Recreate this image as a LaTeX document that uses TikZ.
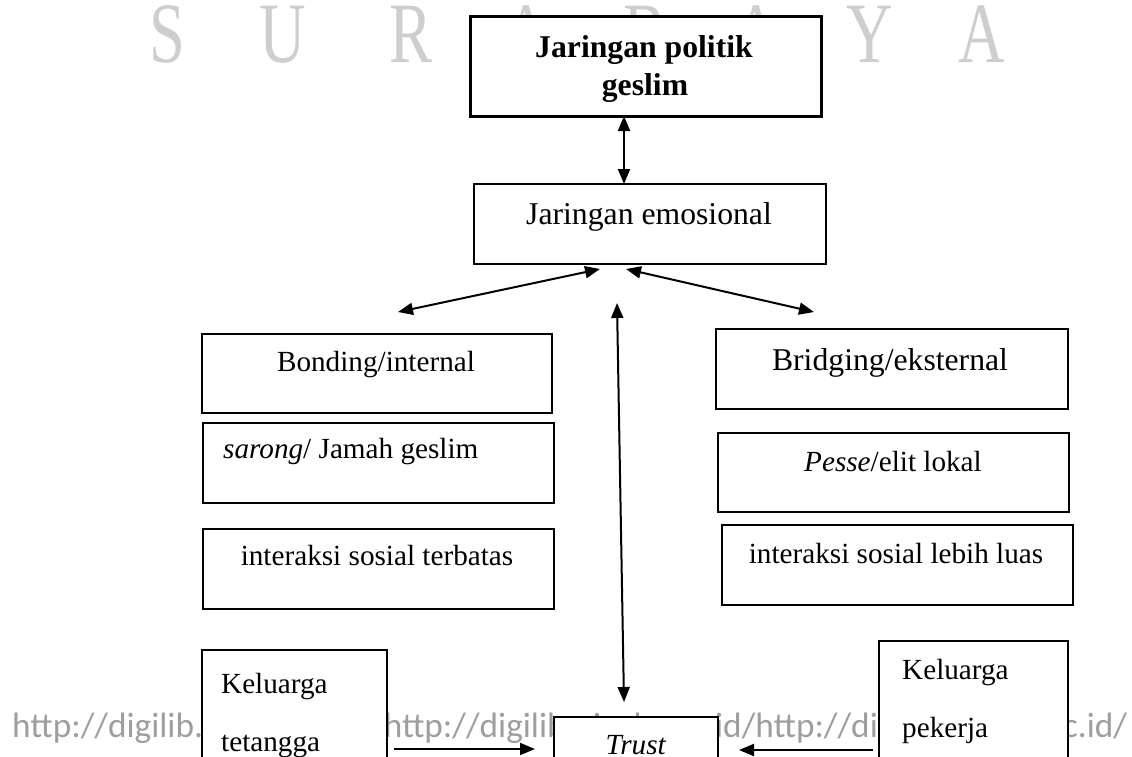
\documentclass[tikz,border=0pt]{standalone}
\usepackage{fontspec}
\setmainfont{Liberation Serif}
\newfontfamily\wmfont{Carlito}
\usetikzlibrary{arrows.meta}
\definecolor{wmgray}{RGB}{158,158,158}
\definecolor{wmlight}{RGB}{206,206,206}
\begin{document}
\begin{tikzpicture}[x=1pt,y=-1pt,
  box/.style={draw, line width=2.3pt, fill=white, inner sep=0pt, anchor=north west},
  bigtxt/.style={inner sep=0pt, font=\fontsize{31.7}{38}\selectfont},
  txt/.style={inner sep=0pt, font=\fontsize{29.2}{35}\selectfont},
  wmletter/.style={inner sep=0pt, anchor=base, text=wmlight, font=\fontsize{86}{90}\selectfont},
  link/.style={line width=2pt, {Triangle[length=15pt,width=12pt]}-{Triangle[length=15pt,width=12pt]}},
  onelink/.style={line width=2pt, -{Triangle[length=15pt,width=12pt]}}]
\useasboundingbox (0,0) rectangle (1132,756);
\clip (0,0) rectangle (1132,756);
% watermarks
\foreach \c/\x [count=\i] in {S/167,U/283,R/411,A/527,B/645,A/757,Y/870,A/982}
  \node[wmletter] (wl\i) at (\x,62) {\scalebox{0.75}[1]{\c}};
\node[anchor=base west, inner sep=0pt, text=wmgray, font=\wmfont\fontsize{35.3}{40}\selectfont] (wm) at (12,737)
  {http://digilib.uinsby.ac.id/http://digilib.uinsby.ac.id/http://digilib.uinsby.ac.id/};
% boxes
\node[box, line width=3pt, minimum width=351pt, minimum height=100pt] (top) at (469,15) {};
\node[box, minimum width=352pt, minimum height=80pt] (emo) at (473,183) {};
\node[box, minimum width=350pt, minimum height=79pt] (bond) at (201,333) {};
\node[box, minimum width=351pt, minimum height=80pt] (sarong) at (202,422) {};
\node[box, minimum width=351pt, minimum height=80pt] (terbatas) at (202,528) {};
\node[box, minimum width=352pt, minimum height=80pt] (bridg) at (715,328) {};
\node[box, minimum width=351pt, minimum height=79pt] (pesse) at (717,432) {};
\node[box, minimum width=351pt, minimum height=80pt] (luas) at (721,524) {};
\node[box, minimum width=185pt, minimum height=151pt] (tetangga) at (201,649) {};
\node[box, minimum width=164pt, minimum height=84pt] (trust) at (553,716) {};
\node[box, minimum width=189pt, minimum height=160pt] (pekerja) at (878,640) {};
% texts
\node[bigtxt, anchor=base, font=\fontsize{31.7}{38}\selectfont\bfseries] (t1) at (644,57) {Jaringan politik};
\node[bigtxt, anchor=base, font=\fontsize{31.7}{38}\selectfont\bfseries] (t2) at (645,95) {geslim};
\node[bigtxt, anchor=base] (t3) at (649,224) {Jaringan emosional};
\node[txt, anchor=base] (t4) at (376,371) {Bonding/internal};
\node[txt, anchor=base west] (t5) at (223,458) {\textit{sarong}/ Jamah geslim};
\node[txt, anchor=base] (t6) at (377,565) {interaksi sosial terbatas};
\node[bigtxt, anchor=base] (t7) at (890,370) {Bridging/eksternal};
\node[txt, anchor=base] (t8) at (893,471) {\textit{Pesse}/elit lokal};
\node[txt, anchor=base] (t9) at (896,563) {interaksi sosial lebih luas};
\node[txt, anchor=base west] (t10) at (221,693) {Keluarga};
\node[txt, anchor=base west] (t11) at (221,751) {tetangga};
\node[txt, anchor=base west] (t12) at (902,679) {Keluarga};
\node[txt, anchor=base west] (t13) at (902,737) {pekerja};
\node[txt, anchor=base] (t14) at (636,754) {\textit{Trust}};
% connector end points
\coordinate (a1) at (624,116);
\coordinate (a2) at (624,184);
\coordinate (b1) at (398,312);
\coordinate (b2) at (600,269);
\coordinate (c1) at (626,269);
\coordinate (c2) at (814,312);
\coordinate (d1) at (617,303);
\coordinate (d2) at (624,702);
\coordinate (e1) at (394,749);
\coordinate (e2) at (535,749);
\coordinate (f1) at (873,750);
\coordinate (f2) at (739,750);
\draw[link] (a1) -- (a2);
\draw[link] (b1) -- (b2);
\draw[link] (c1) -- (c2);
\draw[link] (d1) -- (d2);
\draw[onelink] (e1) -- (e2);
\draw[onelink] (f1) -- (f2);
\end{tikzpicture}
\end{document}
